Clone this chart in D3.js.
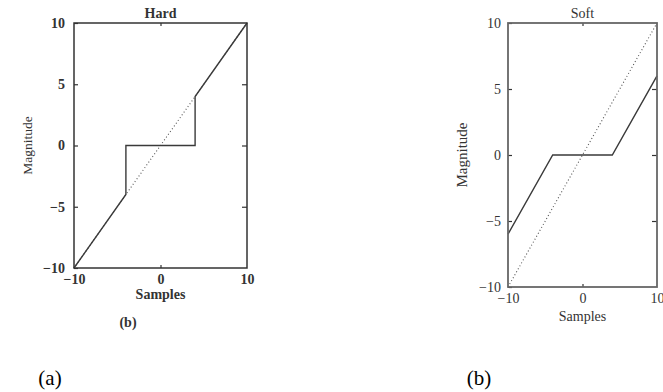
<!DOCTYPE html>
<html>
<head>
<meta charset="utf-8">
<script src="https://cdn.jsdelivr.net/npm/d3@7"></script>
<style>
  body { margin: 0; background: #fff; }
  svg { display: block; }
  text { font-family: "Liberation Serif", "DejaVu Serif", serif; }
</style>
</head>
<body>
<svg id="chart" width="663" height="392"></svg>
<script>
// data
var xTicks = [-10, 0, 10];
var yTicks = [-10, -5, 0, 5, 10];
var innerTicks = [-5, 0, 5];
var identityX = [-10, 10];
var identityY = [-10, 10];
var hardX = [-10, -4, -4, 4, 4, 10];
var hardY = [-10, -4, 0, 0, 4, 10];
var softX = [-10, -4, 4, 10];
var softY = [-6, 0, 0, 6];

var svg = d3.select("#chart");

// draws one panel: frame, ticks, dotted identity and the threshold curve
function drawPanel(opt) {
  var x = d3.scaleLinear().domain([-10, 10]).range([opt.left, opt.right]);
  var y = d3.scaleLinear().domain([-10, 10]).range([opt.bottom, opt.top]);
  var g = svg.append("g").style("font-weight", opt.weight);

  var line = d3.line().x(d => x(d[0])).y(d => y(d[1]));

  g.append("path")
      .datum(d3.zip(identityX, identityY))
      .attr("d", line)
      .attr("fill", "none")
      .attr("stroke", "#555")
      .attr("stroke-width", 1.1)
      .attr("stroke-dasharray", "1,2.4");

  g.append("path")
      .datum(d3.zip(opt.xs, opt.ys))
      .attr("d", line)
      .attr("fill", "none")
      .attr("stroke", "#3a3a3a")
      .attr("stroke-width", 1.4);

  // left axis with labels, ticks pointing in
  var yAxis = g.append("g")
      .attr("transform", "translate(" + opt.left + ",0)")
      .call(d3.axisLeft(y).tickValues(yTicks).tickSizeInner(-4).tickSizeOuter(0).tickPadding(opt.yPad));
  // right axis, ticks only
  var rAxis = g.append("g")
      .attr("transform", "translate(" + opt.right + ",0)")
      .call(d3.axisRight(y).tickValues(innerTicks).tickSizeInner(-5).tickSizeOuter(0).tickFormat(""));
  // bottom axis with labels
  var xAxis = g.append("g")
      .attr("transform", "translate(0," + opt.bottom + ")")
      .call(d3.axisBottom(x).tickValues(xTicks).tickSizeInner(0).tickSizeOuter(0).tickPadding(opt.xPad));
  var bAxis = g.append("g")
      .attr("transform", "translate(0," + opt.bottom + ")")
      .call(d3.axisBottom(x).tickValues([0]).tickSizeInner(-3).tickSizeOuter(0).tickFormat(""));
  var tAxis = g.append("g")
      .attr("transform", "translate(0," + opt.top + ")")
      .call(d3.axisTop(x).tickValues([0]).tickSizeInner(-3).tickSizeOuter(0).tickFormat(""));

  [yAxis, rAxis, xAxis, bAxis, tAxis].forEach(a => {
    a.select(".domain").remove();
    a.selectAll("line").attr("stroke", "#333").attr("stroke-width", 1.2);
    a.selectAll("text")
        .attr("fill", "#333")
        .style("font-family", "'Liberation Serif', serif")
        .style("font-size", opt.tickSize + "px");
  });

  g.append("rect")
      .attr("x", opt.left)
      .attr("y", opt.top)
      .attr("width", opt.right - opt.left)
      .attr("height", opt.bottom - opt.top)
      .attr("fill", "none")
      .attr("stroke", opt.frame)
      .attr("stroke-width", opt.frameWidth);

  var cx = x(0);
  g.append("text")
      .attr("x", cx)
      .attr("y", opt.top - 5)
      .attr("text-anchor", "middle")
      .attr("fill", "#333")
      .style("font-size", opt.labelSize + "px")
      .text(opt.title);

  g.append("text")
      .attr("x", cx)
      .attr("y", opt.samplesY)
      .attr("text-anchor", "middle")
      .attr("fill", "#333")
      .style("font-size", opt.labelSize + "px")
      .text("Samples");

  g.append("text")
      .attr("transform", "translate(" + opt.magX + "," + y(0) + ") rotate(-90)")
      .attr("text-anchor", "middle")
      .attr("fill", "#333")
      .style("font-size", opt.magSize + "px")
      .style("font-weight", "normal")
      .text("Magnitude");

  return g;
}

var hard = drawPanel({
  left: 74, right: 247, top: 23, bottom: 268,
  xs: hardX, ys: hardY, title: "Hard",
  weight: "bold", tickSize: 14, labelSize: 14, magSize: 13.5,
  yPad: 9, xPad: 6, samplesY: 299, magX: 32,
  frame: "#333", frameWidth: 1.5
});
hard.append("text")
    .attr("x", 128)
    .attr("y", 327)
    .attr("text-anchor", "middle")
    .attr("fill", "#333")
    .style("font-size", "14px")
    .text("(b)");

drawPanel({
  left: 508, right: 657, top: 23, bottom: 287,
  xs: softX, ys: softY, title: "Soft",
  weight: "normal", tickSize: 14, labelSize: 14, magSize: 15,
  yPad: 7, xPad: 6, samplesY: 321, magX: 467,
  frame: "#666", frameWidth: 1.8
});

// figure captions
svg.append("text").attr("x", 50).attr("y", 385).attr("text-anchor", "middle")
    .style("font-size", "21px").attr("fill", "#000").text("(a)");
svg.append("text").attr("x", 479).attr("y", 385).attr("text-anchor", "middle")
    .style("font-size", "21px").attr("fill", "#000").text("(b)");
</script>
</body>
</html>
